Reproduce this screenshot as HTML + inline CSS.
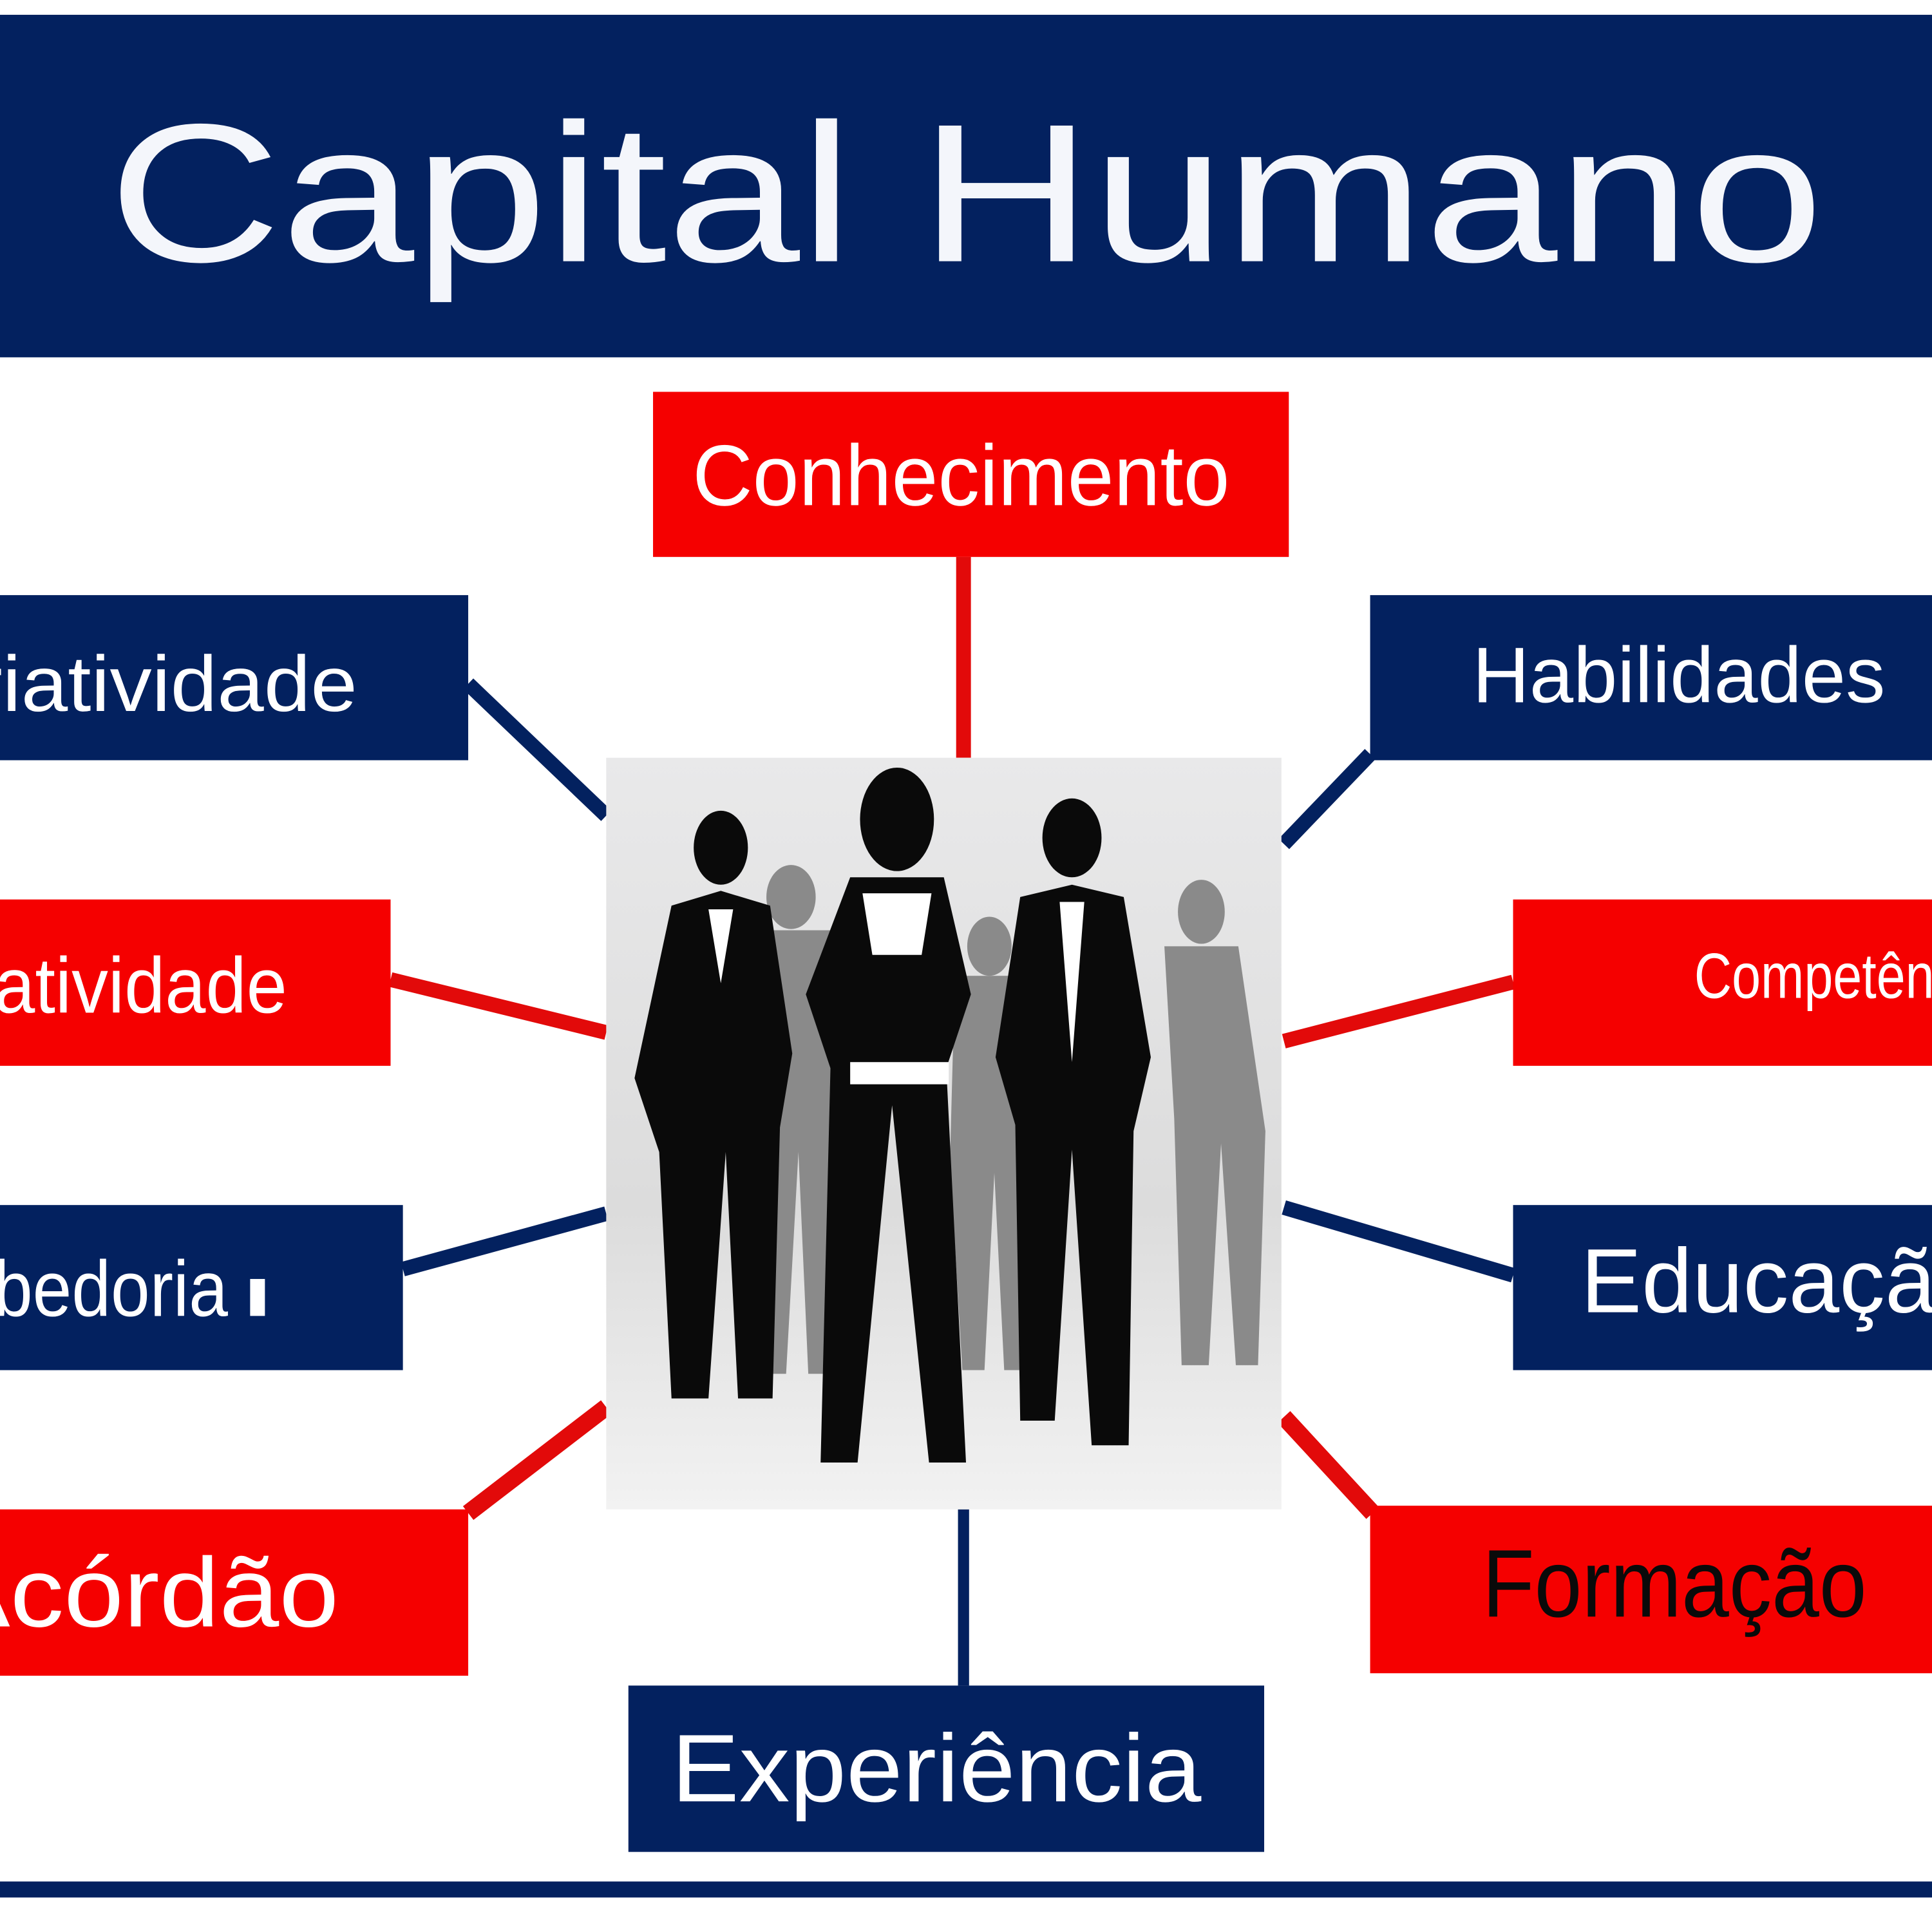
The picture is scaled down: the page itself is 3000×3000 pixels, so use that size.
<!DOCTYPE html>
<html><head><meta charset="utf-8"><style>
html,body{margin:0;padding:0;background:#fff;}
svg{display:block;}
text{font-family:"Liberation Sans",Arial,sans-serif;}
</style></head><body>
<svg width="3000" height="3000" viewBox="0 0 1568 1568" xmlns="http://www.w3.org/2000/svg">
<defs>
<linearGradient id="bg" x1="0" y1="0" x2="0" y2="1">
<stop offset="0" stop-color="#e9e9ea"/><stop offset="0.6" stop-color="#dcdcdc"/><stop offset="1" stop-color="#f2f2f2"/>
</linearGradient>
</defs>
<rect width="1568" height="1568" fill="#fff"/>
<rect x="0" y="12" width="1568" height="278" fill="#03215f"/>
<text x="88" y="212" font-size="160" fill="#f4f6fb" textLength="1392" lengthAdjust="spacingAndGlyphs">Capital Humano</text>
<g stroke-width="12" fill="none">
<line x1="782" y1="452" x2="782" y2="615" stroke="#e20a0a"/>
<line x1="380" y1="555" x2="492" y2="662" stroke="#03215f"/>
<line x1="317" y1="795" x2="492" y2="838" stroke="#e20a0a"/>
<line x1="327" y1="1030" x2="492" y2="985" stroke="#03215f"/>
<line x1="380" y1="1228" x2="492" y2="1142" stroke="#e20a0a" stroke-width="14"/>
<line x1="1112" y1="612" x2="1042" y2="685" stroke="#03215f"/>
<line x1="1228" y1="797" x2="1042" y2="845" stroke="#e20a0a"/>
<line x1="1042" y1="980" x2="1228" y2="1035" stroke="#03215f"/>
<line x1="1042" y1="1150" x2="1114" y2="1228" stroke="#e20a0a" stroke-width="14"/>
<line x1="782" y1="1225" x2="782" y2="1368" stroke="#03215f" stroke-width="9"/>
</g>
<rect x="492" y="615" width="548" height="610" fill="url(#bg)"/>
<g fill="#8a8a8a">
<ellipse cx="642" cy="728" rx="20" ry="26"/><path d="M612 755 h62 l12 150 -10 210 h-20 l-8-180 -10 180 h-20 l-8-200 z"/>
<ellipse cx="803" cy="768" rx="18" ry="24"/><path d="M775 792 h56 l14 140 -12 180 h-18 l-8-160 -8 160 h-18 l-10-170 z"/>
<ellipse cx="975" cy="740" rx="19" ry="26"/><path d="M945 768 h60 l22 150 -6 190 h-18 l-12-180 -10 180 h-22 l-6-200 z"/>
</g>
<g fill="#0a0a0a">
<ellipse cx="585" cy="688" rx="22" ry="30"/>
<path d="M545 735 l40-12 40 12 l18 120 -10 60 -6 220 h-28 l-10-200 -14 200 h-30 l-10-200 -20-60 z"/>
<ellipse cx="728" cy="665" rx="30" ry="42"/>
<path d="M690 712 h76 l22 95 -20 60 16 320 h-30 l-30-290 -28 290 h-30 l8-320 -20-60 z"/>
<ellipse cx="870" cy="680" rx="24" ry="32"/>
<path d="M828 728 l42-10 42 10 l22 130 -14 60 -4 255 h-30 l-16-240 -14 220 h-28 l-4-240 -16-55 z"/>
</g>
<g fill="#fff">
<path d="M575 738 h20 l-10 60 z"/><path d="M860 732 h20 l-10 130 z"/><path d="M700 725 h56 l-8 50 h-40 z"/><rect x="690" y="862" width="80" height="18"/>
</g>
<rect x="530" y="318" width="516" height="134" fill="#f50000"/>
<text x="562" y="410" font-size="70" fill="#fff" textLength="436" lengthAdjust="spacingAndGlyphs">Conhecimento</text>

<rect x="0" y="483" width="380" height="134" fill="#03215f"/>
<text x="290" y="577" font-size="64" fill="#fff" text-anchor="end" textLength="360" lengthAdjust="spacingAndGlyphs">Criatividade</text>

<rect x="0" y="730" width="317" height="135" fill="#f50000"/>
<text x="233" y="822" font-size="64" fill="#fff" text-anchor="end" textLength="330" lengthAdjust="spacingAndGlyphs">Proatividade</text>

<rect x="0" y="978" width="327" height="134" fill="#03215f"/>
<text x="185" y="1068" font-size="64" fill="#fff" text-anchor="end" textLength="260" lengthAdjust="spacingAndGlyphs">Sabedoria</text>
<rect x="203" y="1038" width="12" height="30" fill="#fff"/>

<rect x="0" y="1225" width="380" height="135" fill="#f50000"/>
<text x="275" y="1320" font-size="80" fill="#fff" text-anchor="end" textLength="325" lengthAdjust="spacingAndGlyphs">Acórdão</text>

<rect x="1112" y="483" width="456" height="134" fill="#03215f"/>
<text x="1195" y="570" font-size="64" fill="#fff" textLength="335" lengthAdjust="spacingAndGlyphs">Habilidades</text>

<rect x="1228" y="730" width="340" height="135" fill="#f50000"/>
<text x="1375" y="810" font-size="52" fill="#fff" textLength="270" lengthAdjust="spacingAndGlyphs">Competências</text>

<rect x="1228" y="978" width="340" height="134" fill="#03215f"/>
<text x="1283" y="1065" font-size="74" fill="#fff">Educação</text>

<rect x="1112" y="1222" width="456" height="136" fill="#f50000"/>
<text x="1203" y="1312" font-size="78" fill="#0a0a0a" textLength="312" lengthAdjust="spacingAndGlyphs">Formação</text>

<rect x="510" y="1368" width="516" height="135" fill="#03215f"/>
<text x="545" y="1462" font-size="78" fill="#fff" textLength="430" lengthAdjust="spacingAndGlyphs">Experiência</text>

<rect x="0" y="1527" width="1568" height="13" fill="#03215f"/>
</svg>
</body></html>
